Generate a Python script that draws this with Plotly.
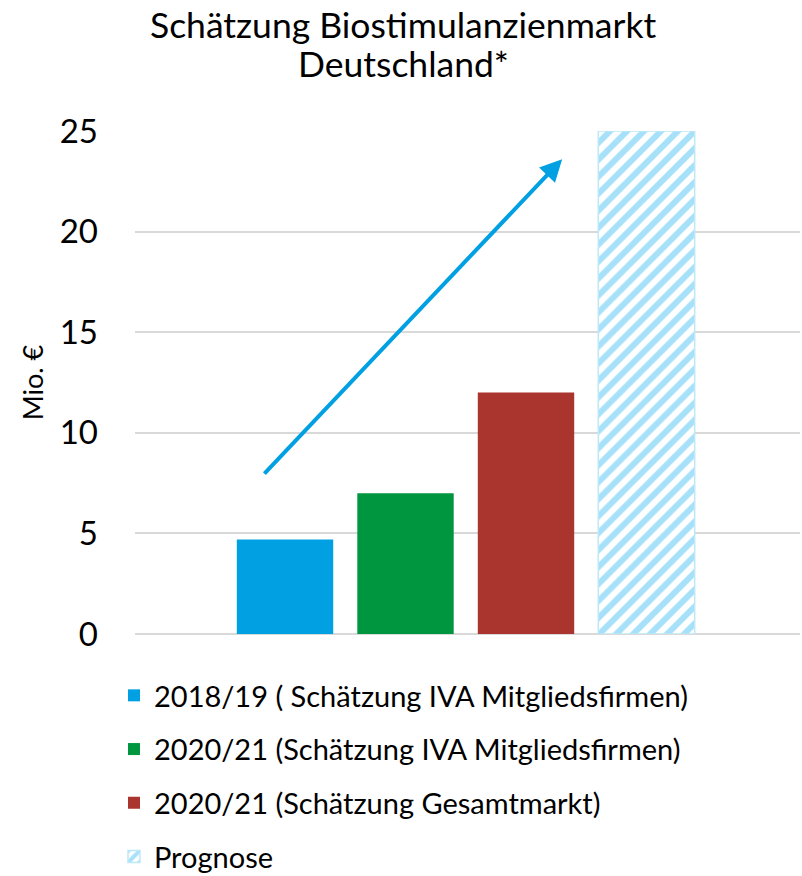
import plotly.graph_objects as go

series_names = [
    "2018/19 ( Schätzung IVA Mitgliedsfirmen)",
    "2020/21 (Schätzung IVA Mitgliedsfirmen)",
    "2020/21 (Schätzung Gesamtmarkt)",
    "Prognose",
]
categories = ["2018/19 IVA", "2020/21 IVA", "2020/21 Gesamt", "Prognose"]
values = [4.7, 7.0, 12.0, 25.0]
colors = ["#00A0E3", "#009640", "#AA352E", "#4DC4F4"]

y_ticks = [0, 5, 10, 15, 20, 25]
title_lines = ["Schätzung Biostimulanzienmarkt", "Deutschland*"]
y_title = "Mio. €"

# trend arrow (data units): start and end
arrow_start = (-0.183, 7.9)
arrow_end = (2.30, 23.6)

FONT = "Lato, Carlito, Calibri, sans-serif"
H = 876
PLOT_TOP, PLOT_BOTTOM = 131, 634

fig = go.Figure()
for i, (name, cat, val, col) in enumerate(zip(series_names, categories, values, colors)):
    if name == "Prognose":
        marker = dict(
            color="white",
            pattern=dict(shape="/", fgcolor=col, bgcolor="white", size=12, solidity=0.5),
            line=dict(color="#BDE8F8", width=1.5),
        )
    else:
        marker = dict(color=col, line=dict(width=0))
    fig.add_trace(go.Bar(
        x=[cat], y=[val], name=name, marker=marker, width=0.8,
        legendgroup=f"g{i}", hoverinfo="y",
    ))

fig.add_annotation(
    x=arrow_end[0], y=arrow_end[1], ax=arrow_start[0], ay=arrow_start[1],
    xref="x", yref="y", axref="x", ayref="y",
    showarrow=True, arrowhead=2, arrowsize=1.1, arrowwidth=4,
    arrowcolor="#00A0E3", text="",
)

def py(px):
    return (PLOT_BOTTOM - px) / (PLOT_BOTTOM - PLOT_TOP)

for line, ypx in zip(title_lines, [24, 64]):
    fig.add_annotation(text=line, x=(403 - 135) / 665, y=py(ypx), xref="paper", yref="paper",
                       xanchor="center", yanchor="middle", showarrow=False,
                       font=dict(size=35.5, family=FONT, color="black"))

fig.update_layout(
    width=802, height=H,
    margin=dict(l=135, r=2, t=PLOT_TOP, b=H - PLOT_BOTTOM),
    paper_bgcolor="white", plot_bgcolor="white",
    barmode="overlay",
    font=dict(family=FONT, color="black"),
    showlegend=True,
    legend=dict(orientation="v", x=-0.0316, xanchor="left",
                yref="container", y=1 - 670 / H, yanchor="top",
                font=dict(size=29, family=FONT, color="black"),
                tracegroupgap=13, itemwidth=30, bgcolor="rgba(0,0,0,0)"),
    xaxis=dict(type="category", range=[-1.245, 4.274], showticklabels=False,
               showgrid=False, zeroline=False, showline=False, ticks=""),
    yaxis=dict(range=[0, 25], tickvals=y_ticks, showgrid=True, gridcolor="#D9D9D9",
               gridwidth=2, zeroline=True, zerolinecolor="#D9D9D9", zerolinewidth=2,
               showline=False, ticks="", tickfont=dict(size=33, family=FONT),
               ticklabelstandoff=36,
               title=dict(text=y_title, font=dict(size=27, family=FONT), standoff=8)),
)

fig.write_html("out.html", config={"displayModeBar": False},
               post_script="document.body.style.margin='0px';")
